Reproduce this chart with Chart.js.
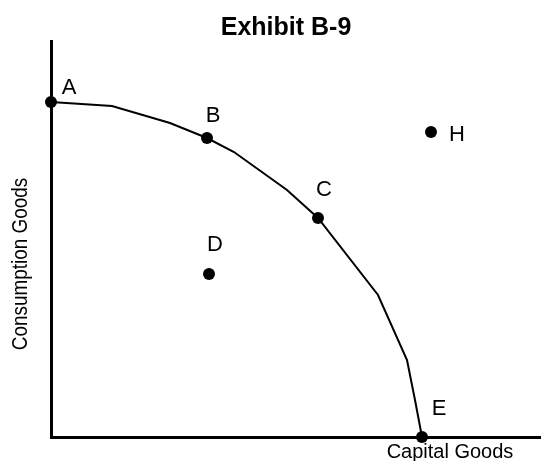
<!DOCTYPE html>
<html>
<head>
<meta charset="utf-8">
<script src="https://cdn.jsdelivr.net/npm/chart.js@4.4.0/dist/chart.umd.min.js"></script>
<style>
  body { margin: 0; background: #fff; }
  canvas { display: block; }
</style>
</head>
<body>
<canvas id="ppf_chart" width="542" height="461"></canvas>
<script>
// frontier curve (capital goods, consumption goods)
const curveX = [0, 61, 119, 156, 183, 236, 267, 327, 356, 364, 371];
const curveY = [335, 331, 314, 299, 285, 247, 219, 142, 77, 37, 0];

// labelled points
const pointNames = ['A', 'B', 'C', 'D', 'E', 'H'];
const pointX = [0, 156, 267, 158, 371, 380];
const pointY = [335, 299, 219, 163, 0, 305];

const chartTitle = 'Exhibit B-9';
const xTitle = 'Capital Goods';
const yTitle = 'Consumption Goods';

const curveData = [];
for (let i = 0; i < curveX.length; i++) {
  curveData.push({ x: curveX[i], y: curveY[i] });
}
const pointData = [];
for (let i = 0; i < pointX.length; i++) {
  pointData.push({ x: pointX[i], y: pointY[i] });
}

// label offsets from the dots, in pixels
const labelOffset = {
  A: [18, -14],
  B: [6, -22],
  C: [6, -28],
  D: [6, -29],
  E: [17, -28],
  H: [26, 3]
};

const textPlugin = {
  id: 'textPlugin',
  afterDraw(chart) {
    const ctx = chart.ctx;
    const xs = chart.scales.x;
    const ys = chart.scales.y;
    ctx.save();
    ctx.fillStyle = '#000';
    ctx.textAlign = 'center';
    ctx.textBaseline = 'middle';

    ctx.font = 'bold 25px "Liberation Sans", Arial, sans-serif';
    ctx.fillText(chartTitle, 286, 28);

    ctx.font = '22px "Liberation Sans", Arial, sans-serif';
    for (let i = 0; i < pointNames.length; i++) {
      const off = labelOffset[pointNames[i]];
      const px = xs.getPixelForValue(pointX[i]) + off[0];
      const py = ys.getPixelForValue(pointY[i]) + off[1];
      ctx.fillText(pointNames[i], px, py);
    }

    ctx.font = '20px "Liberation Sans", Arial, sans-serif';
    ctx.fillText(xTitle, 450, 452);

    // narrow vertical title
    ctx.translate(21, 264);
    ctx.rotate(-Math.PI / 2);
    ctx.scale(0.84, 1);
    ctx.font = '22.5px "Liberation Sans", Arial, sans-serif';
    ctx.fillText(yTitle, 0, 0);
    ctx.restore();
  }
};

const config = {
  type: 'scatter',
  data: {
    datasets: [
      {
        label: 'frontier',
        data: curveData,
        showLine: true,
        borderColor: '#000',
        borderWidth: 2,
        pointRadius: 0,
        tension: 0,
        fill: false,
        clip: false
      },
      {
        label: 'points',
        data: pointData,
        backgroundColor: '#000',
        borderColor: '#000',
        borderWidth: 0,
        pointRadius: 6,
        clip: false
      }
    ]
  },
  plugins: [textPlugin],
  options: {
    responsive: false,
    animation: false,
    layout: {
      autoPadding: false,
      padding: { left: 51, right: 2, top: 41, bottom: 24 }
    },
    plugins: {
      legend: { display: false },
      tooltip: { enabled: false },
      title: { display: false }
    },
    scales: {
      x: {
        type: 'linear',
        min: 0,
        max: 489,
        grid: { display: false, drawTicks: false },
        ticks: { display: false },
        border: { display: true, color: '#000', width: 3 }
      },
      y: {
        type: 'linear',
        min: 0,
        max: 396,
        grid: { display: false, drawTicks: false },
        ticks: { display: false },
        border: { display: true, color: '#000', width: 3 }
      }
    }
  }
};

var myChart = new Chart(document.getElementById('ppf_chart'), config);
</script>
</body>
</html>
